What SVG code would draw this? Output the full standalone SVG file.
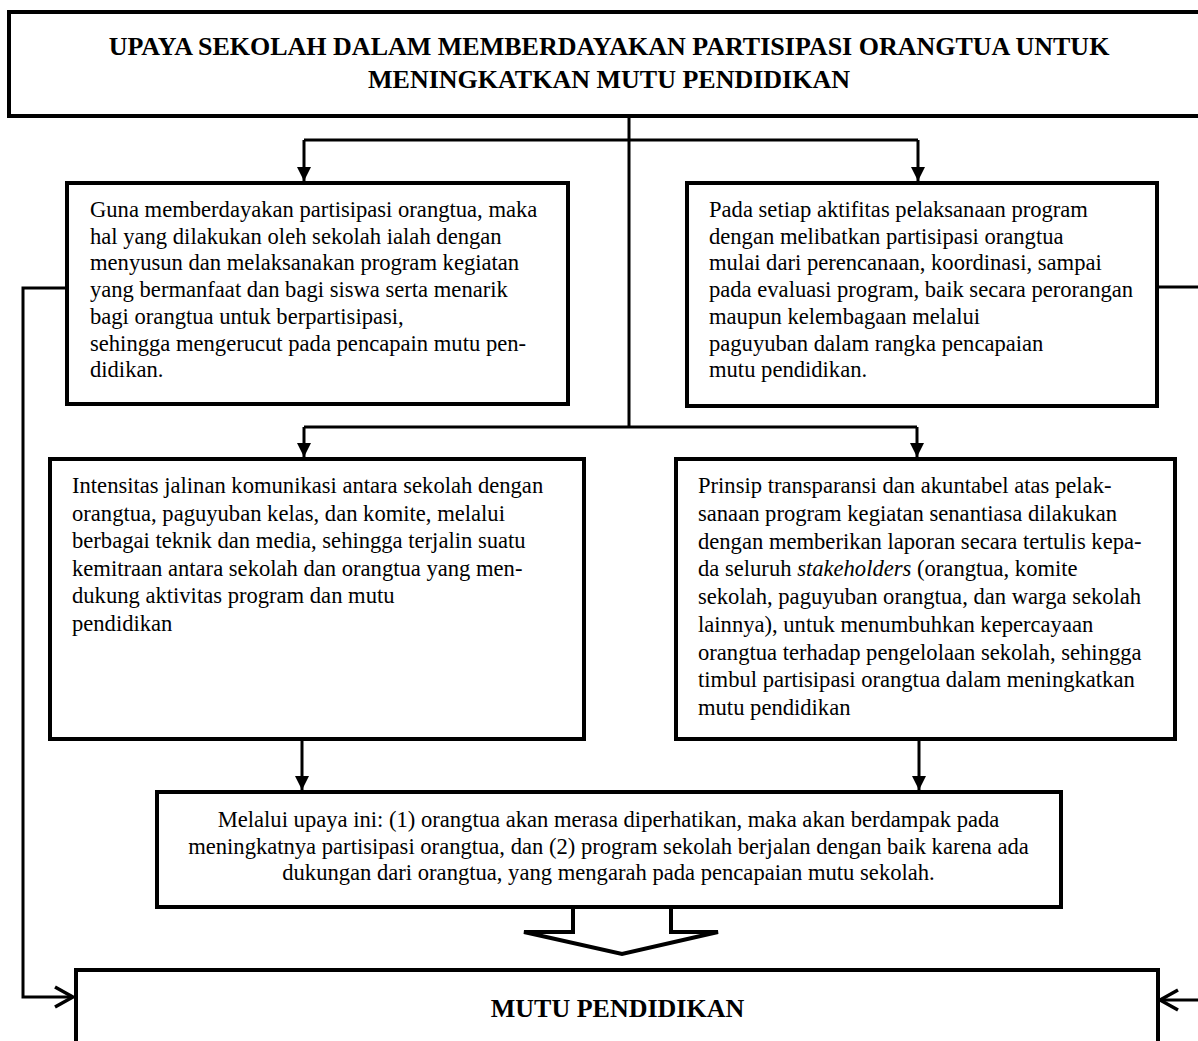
<svg xmlns="http://www.w3.org/2000/svg" width="1198" height="1041" viewBox="0 0 1198 1041">
<style>
  .box { fill: #ffffff; stroke: #000000; stroke-width: 4; }
  .ln { fill: none; stroke: #000000; stroke-width: 3; }
  .t { font-family: "Liberation Serif", "Times New Roman", serif; font-size: 22.6px; fill: #000000; }
  .h { font-family: "Liberation Serif", "Times New Roman", serif; font-size: 26px; font-weight: bold; fill: #000000; text-anchor: middle; }
  .c { text-anchor: middle; }
</style>
<defs>
  <marker id="tri" markerUnits="userSpaceOnUse" markerWidth="16" markerHeight="16" viewBox="-14 -8 16 16" refX="0" refY="0" orient="auto">
    <path d="M-14,-7 L0,0 L-14,7 Z" fill="#000000"/>
  </marker>
  <marker id="open" markerUnits="userSpaceOnUse" markerWidth="24" markerHeight="26" viewBox="-21 -13 24 26" refX="0" refY="0" orient="auto">
    <path d="M-18,-10 L0,0 L-18,10" fill="none" stroke="#000000" stroke-width="3.5"/>
  </marker>
</defs>
<rect width="1198" height="1041" fill="#ffffff"/>

<g id="connectors">
  <path class="ln" d="M629,116 V427"/>
  <path class="ln" d="M304,140 H918"/>
  <path class="ln" d="M304,140 V181" marker-end="url(#tri)"/>
  <path class="ln" d="M918,140 V181" marker-end="url(#tri)"/>
  <path class="ln" d="M304,427 H917"/>
  <path class="ln" d="M304,427 V457" marker-end="url(#tri)"/>
  <path class="ln" d="M917,427 V457" marker-end="url(#tri)"/>
  <path class="ln" d="M302,739 V790" marker-end="url(#tri)"/>
  <path class="ln" d="M919,739 V790" marker-end="url(#tri)"/>
  <path class="ln" d="M67,288 H23 V997 H73" marker-end="url(#open)"/>
  <path class="ln" d="M1157,287 H1210 V1000 H1160" marker-end="url(#open)"/>
  <path d="M573,907 V932 H524 L622,954 L718,932 H671 V907" fill="#ffffff" stroke="#000000" stroke-width="4" stroke-linejoin="miter"/>
</g>

<g id="title">
  <rect class="box" x="9" y="12" width="1200" height="104"/>
  <text class="h" x="609" y="55">UPAYA SEKOLAH DALAM MEMBERDAYAKAN PARTISIPASI ORANGTUA UNTUK</text>
  <text class="h" x="609" y="88">MENINGKATKAN MUTU PENDIDIKAN</text>
</g>

<g id="box1-left">
  <rect class="box" x="67" y="183" width="501" height="221"/>
  <text class="t" x="90" y="217">Guna memberdayakan partisipasi orangtua, maka</text>
  <text class="t" x="90" y="243.7">hal yang dilakukan oleh sekolah ialah dengan</text>
  <text class="t" x="90" y="270.4">menyusun dan melaksanakan program kegiatan</text>
  <text class="t" x="90" y="297.1">yang bermanfaat dan bagi siswa serta menarik</text>
  <text class="t" x="90" y="323.8">bagi orangtua untuk berpartisipasi,</text>
  <text class="t" x="90" y="350.5">sehingga mengerucut pada pencapain mutu pen-</text>
  <text class="t" x="90" y="377.2">didikan.</text>
</g>

<g id="box1-right">
  <rect class="box" x="687" y="183" width="470" height="223"/>
  <text class="t" x="709" y="217">Pada setiap aktifitas pelaksanaan program</text>
  <text class="t" x="709" y="243.7">dengan melibatkan partisipasi orangtua</text>
  <text class="t" x="709" y="270.4">mulai dari perencanaan, koordinasi, sampai</text>
  <text class="t" x="709" y="297.1">pada evaluasi program, baik secara perorangan</text>
  <text class="t" x="709" y="323.8">maupun kelembagaan melalui</text>
  <text class="t" x="709" y="350.5">paguyuban dalam rangka pencapaian</text>
  <text class="t" x="709" y="377.2">mutu pendidikan.</text>
</g>

<g id="box2-left">
  <rect class="box" x="50" y="459" width="534" height="280"/>
  <text class="t" x="72" y="493">Intensitas jalinan komunikasi antara sekolah dengan</text>
  <text class="t" x="72" y="520.5">orangtua, paguyuban kelas, dan komite, melalui</text>
  <text class="t" x="72" y="548">berbagai teknik dan media, sehingga terjalin suatu</text>
  <text class="t" x="72" y="575.5">kemitraan antara sekolah dan orangtua yang men-</text>
  <text class="t" x="72" y="603">dukung aktivitas program dan mutu</text>
  <text class="t" x="72" y="630.5">pendidikan</text>
</g>

<g id="box2-right">
  <rect class="box" x="676" y="459" width="499" height="280"/>
  <text class="t" x="698" y="493.3">Prinsip transparansi dan akuntabel atas pelak-</text>
  <text class="t" x="698" y="521">sanaan program kegiatan senantiasa dilakukan</text>
  <text class="t" x="698" y="548.7">dengan memberikan laporan secara tertulis kepa-</text>
  <text class="t" x="698" y="576.4">da seluruh <tspan font-style="italic">stakeholders</tspan> (orangtua, komite</text>
  <text class="t" x="698" y="604.1">sekolah, paguyuban orangtua, dan warga sekolah</text>
  <text class="t" x="698" y="631.8">lainnya), untuk menumbuhkan kepercayaan</text>
  <text class="t" x="698" y="659.5">orangtua terhadap pengelolaan sekolah, sehingga</text>
  <text class="t" x="698" y="687.2">timbul partisipasi orangtua dalam meningkatkan</text>
  <text class="t" x="698" y="714.9">mutu pendidikan</text>
</g>

<g id="box-result">
  <rect class="box" x="157" y="792" width="904" height="115"/>
  <text class="t c" x="608.5" y="827">Melalui upaya ini: (1) orangtua akan merasa diperhatikan, maka akan berdampak pada</text>
  <text class="t c" x="608.5" y="853.5">meningkatnya partisipasi orangtua, dan (2) program sekolah berjalan dengan baik karena ada</text>
  <text class="t c" x="608.5" y="880">dukungan dari orangtua, yang mengarah pada pencapaian mutu sekolah.</text>
</g>

<g id="mutu">
  <rect class="box" x="76" y="970" width="1082" height="100"/>
  <text class="h" x="617.5" y="1017">MUTU PENDIDIKAN</text>
</g>
</svg>
